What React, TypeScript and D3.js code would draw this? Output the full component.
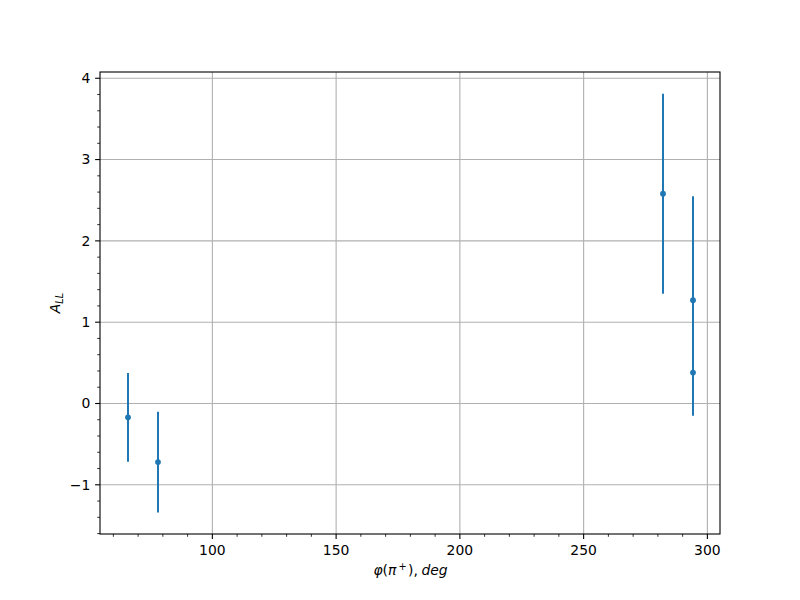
import React from "react";
import * as d3 from "d3";

const phi = [66, 78, 282, 294, 294];
const all = [-0.17, -0.72, 2.58, 1.27, 0.38];
const err = [0.545, 0.62, 1.23, 1.28, 0.53];
const xMajor = [100, 150, 200, 250, 300];
const yMajor = [-1, 0, 1, 2, 3, 4];

const W = 800, H = 600;
const L = 100, R = 720, T = 72, B = 534;
const color = "#1f77b4";
const font = "DejaVu Sans, sans-serif";

export default function App() {
  const x = d3.scaleLinear().domain([54.6, 305.1]).range([L, R]);
  const y = d3.scaleLinear().domain([-1.605, 4.077]).range([B, T]);
  const xMinor = d3.range(60, 306, 10).filter((v) => !xMajor.includes(v) && x(v) >= L && x(v) <= R);
  const yMinor = d3.range(-16, 41, 2).map((v) => v / 10).filter((v) => Math.abs(v - Math.round(v)) > 1e-6 && y(v) <= B && y(v) >= T);
  const fmt = (v: number) => (v < 0 ? "\u2212" + Math.abs(v) : String(v));
  return (
    <svg width={W} height={H} style={{ position: "absolute", left: 0, top: 0, background: "#fff" }} fontFamily={font}>
      <rect x={0} y={0} width={W} height={H} fill="#fff" />
      {xMajor.map((v) => (
        <line key={"gx" + v} x1={x(v)} x2={x(v)} y1={T} y2={B} stroke="#b0b0b0" strokeWidth={1.1} />
      ))}
      {yMajor.map((v) => (
        <line key={"gy" + v} x1={L} x2={R} y1={y(v)} y2={y(v)} stroke="#b0b0b0" strokeWidth={1.1} />
      ))}
      {phi.map((p, i) => (
        <line key={"e" + i} x1={Math.round(x(p))} x2={Math.round(x(p))} y1={y(all[i] - err[i])} y2={y(all[i] + err[i])} stroke={color} strokeWidth={2} />
      ))}
      {phi.map((p, i) => (
        <circle key={"c" + i} cx={Math.round(x(p))} cy={y(all[i])} r={2.9} fill={color} />
      ))}
      <rect x={L} y={T} width={R - L} height={B - T} fill="none" stroke="#000" strokeWidth={1.1} />
      {xMajor.map((v) => (
        <g key={"xt" + v}>
          <line x1={x(v)} x2={x(v)} y1={B} y2={B + 4.9} stroke="#000" strokeWidth={1.1} />
          <text x={x(v)} y={555} textAnchor="middle" fontSize={13.9} fill="#000">{fmt(v)}</text>
        </g>
      ))}
      {xMinor.map((v) => (
        <line key={"xm" + v} x1={x(v)} x2={x(v)} y1={B} y2={B + 2.8} stroke="#000" strokeWidth={0.8} />
      ))}
      {yMajor.map((v) => (
        <g key={"yt" + v}>
          <line x1={L} x2={L - 4.9} y1={y(v)} y2={y(v)} stroke="#000" strokeWidth={1.1} />
          <text x={90.3} y={y(v)} dy="0.35em" textAnchor="end" fontSize={13.9} fill="#000">{fmt(v)}</text>
        </g>
      ))}
      {yMinor.map((v) => (
        <line key={"ym" + v} x1={L} x2={L - 2.8} y1={y(v)} y2={y(v)} stroke="#000" strokeWidth={0.8} />
      ))}
      <text x={410.5} y={575} textAnchor="middle" fontSize={13.9} fill="#000">
        <tspan fontStyle="italic">φ</tspan>
        <tspan>(</tspan>
        <tspan fontStyle="italic">π</tspan>
        <tspan fontSize={9.7} dx={2} dy={-5}>+</tspan>
        <tspan dx={1.5} dy={5}>),</tspan>
        <tspan dx={3.5} fontStyle="italic">deg</tspan>
      </text>
      <text transform={`translate(60,${(T + B) / 2}) rotate(-90)`} textAnchor="middle" fontSize={13.9} fill="#000">
        <tspan fontStyle="italic">A</tspan>
        <tspan fontStyle="italic" fontSize={9.7} dy={3}>LL</tspan>
      </text>
    </svg>
  );
}
